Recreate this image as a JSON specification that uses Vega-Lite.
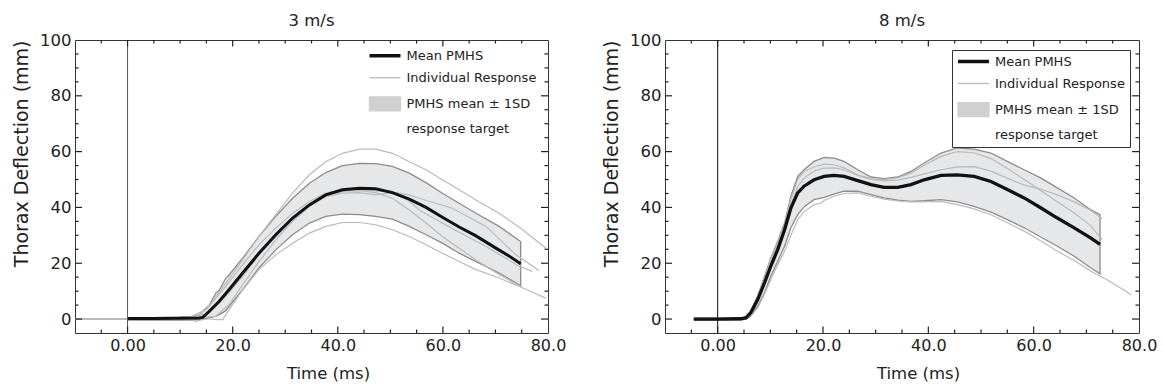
{
"$schema": "https://vega.github.io/schema/vega-lite/v6.json",
"padding": {"left": 12, "top": 12, "right": 5, "bottom": 5},
"spacing": 35,
"datasets": {
"ind3": [
{"s":"A","x":-10,"y":0},{"s":"A","x":5,"y":0},{"s":"A","x":10,"y":0.3},{"s":"A","x":12,"y":0.6},{"s":"A","x":13.6,"y":1.5},{"s":"A","x":15.5,"y":4.5},{"s":"A","x":18.7,"y":12.9},{"s":"A","x":21.9,"y":21.2},{"s":"A","x":25,"y":29.6},{"s":"A","x":28.2,"y":37.4},{"s":"A","x":31.4,"y":45.1},{"s":"A","x":34.6,"y":51.7},{"s":"A","x":37.7,"y":56.4},{"s":"A","x":40.9,"y":59.4},{"s":"A","x":44.1,"y":60.9},{"s":"A","x":47.2,"y":60.9},{"s":"A","x":50.4,"y":59.4},{"s":"A","x":53.6,"y":56.4},{"s":"A","x":56.8,"y":53.5},{"s":"A","x":59.9,"y":49.9},{"s":"A","x":63.1,"y":46.3},{"s":"A","x":66.3,"y":42.7},{"s":"A","x":70.7,"y":37.9},{"s":"A","x":75,"y":32.3},{"s":"A","x":79.6,"y":25.4},
{"s":"B","x":-10,"y":0},{"s":"B","x":5,"y":0},{"s":"B","x":10,"y":0.1},{"s":"B","x":12,"y":-0.3},{"s":"B","x":13,"y":-0.8},{"s":"B","x":14,"y":-0.3},{"s":"B","x":15.5,"y":0.1},{"s":"B","x":17,"y":-0.2},{"s":"B","x":18.1,"y":-0.2},{"s":"B","x":19.3,"y":3.3},{"s":"B","x":21.9,"y":10.5},{"s":"B","x":25,"y":17.7},{"s":"B","x":28.2,"y":23},{"s":"B","x":31.4,"y":27.2},{"s":"B","x":34.6,"y":30.8},{"s":"B","x":37.7,"y":33.2},{"s":"B","x":40.9,"y":34.6},{"s":"B","x":44.1,"y":34.6},{"s":"B","x":47.2,"y":33.8},{"s":"B","x":50.4,"y":32},{"s":"B","x":53.6,"y":29.6},{"s":"B","x":56.8,"y":26.6},{"s":"B","x":59.9,"y":23.6},{"s":"B","x":63.1,"y":20.6},{"s":"B","x":66.3,"y":17.7},{"s":"B","x":70.7,"y":14.7},{"s":"B","x":75,"y":11.3},{"s":"B","x":79.6,"y":7.5},
{"s":"C","x":-10,"y":0},{"s":"C","x":5,"y":0},{"s":"C","x":10,"y":0.3},{"s":"C","x":12,"y":0.8},{"s":"C","x":14.9,"y":3.3},{"s":"C","x":18.7,"y":11.7},{"s":"C","x":21.9,"y":19.5},{"s":"C","x":25,"y":26.6},{"s":"C","x":28.2,"y":32.6},{"s":"C","x":31.4,"y":37.9},{"s":"C","x":34.6,"y":42.1},{"s":"C","x":37.7,"y":45.1},{"s":"C","x":40.9,"y":46.3},{"s":"C","x":44.1,"y":46.3},{"s":"C","x":47.2,"y":46},{"s":"C","x":50.4,"y":45.5},{"s":"C","x":53.6,"y":44.5},{"s":"C","x":55.5,"y":43.3},{"s":"C","x":61.8,"y":39.7},{"s":"C","x":68.2,"y":33.2},{"s":"C","x":73.9,"y":23},{"s":"C","x":78.3,"y":17.4},
{"s":"D","x":-10,"y":0},{"s":"D","x":5,"y":0},{"s":"D","x":10,"y":0.2},{"s":"D","x":12,"y":0.5},{"s":"D","x":15.5,"y":2.1},{"s":"D","x":18.7,"y":8.1},{"s":"D","x":21.9,"y":15.3},{"s":"D","x":25,"y":23},{"s":"D","x":28.2,"y":29.6},{"s":"D","x":31.4,"y":35.6},{"s":"D","x":34.6,"y":40.9},{"s":"D","x":37.7,"y":43.9},{"s":"D","x":40.9,"y":45.1},{"s":"D","x":44.1,"y":45.3},{"s":"D","x":47.2,"y":44.5},{"s":"D","x":50.4,"y":45.3},{"s":"D","x":53.6,"y":42.3},{"s":"D","x":55.5,"y":39.1},{"s":"D","x":61.8,"y":32.4},{"s":"D","x":68.2,"y":26},{"s":"D","x":74.5,"y":18.9},{"s":"D","x":77,"y":17.1},
{"s":"E","x":-10,"y":0},{"s":"E","x":5,"y":0},{"s":"E","x":10,"y":0.1},{"s":"E","x":13,"y":0.4},{"s":"E","x":16.8,"y":1},{"s":"E","x":19.3,"y":5.1},{"s":"E","x":21.9,"y":12.3},{"s":"E","x":25,"y":20.6},{"s":"E","x":28.2,"y":28.4},{"s":"E","x":31.4,"y":35},{"s":"E","x":34.6,"y":40.3},{"s":"E","x":37.7,"y":43.9},{"s":"E","x":40.9,"y":45.7},{"s":"E","x":44.1,"y":46},{"s":"E","x":47.2,"y":45.3},{"s":"E","x":50.4,"y":43.3},{"s":"E","x":53.6,"y":39.1},{"s":"E","x":56.8,"y":34.4},{"s":"E","x":59.9,"y":29.6},{"s":"E","x":63.1,"y":25.4},{"s":"E","x":66.3,"y":21.2},{"s":"E","x":70.7,"y":15.9},{"s":"E","x":75,"y":11.5}
],
"mean3": [
{"x":0,"y":0.2},{"x":5,"y":0.2},{"x":10,"y":0.3},{"x":13.6,"y":0.4},{"x":14.3,"y":0.6},{"x":15.5,"y":2.7},{"x":17.4,"y":6.3},{"x":19.3,"y":10.5},{"x":21.9,"y":16.5},{"x":25,"y":23.6},{"x":28.2,"y":30.2},{"x":31.4,"y":36.2},{"x":34.6,"y":40.9},{"x":37.7,"y":44.5},{"x":40.9,"y":46.3},{"x":44.1,"y":46.9},{"x":47.2,"y":46.7},{"x":50.4,"y":45.3},{"x":53.6,"y":43},{"x":56.8,"y":40},{"x":59.9,"y":36.5},{"x":63.1,"y":33},{"x":66.3,"y":29.8},{"x":70,"y":25.5},{"x":72.5,"y":22.7},{"x":74.8,"y":19.8}
],
"band3": [
{"x":0,"lo":-0.4,"hi":0.5},{"x":5,"lo":-0.4,"hi":0.5},{"x":10,"lo":-0.3,"hi":0.7},{"x":12,"lo":-0.4,"hi":0.9},{"x":13.6,"lo":-0.2,"hi":1.5},{"x":14.9,"lo":0.2,"hi":3.9},{"x":15.5,"lo":0.4,"hi":4.8},{"x":16.8,"lo":1,"hi":9.3},{"x":17.4,"lo":1.5,"hi":10.2},{"x":18.7,"lo":3,"hi":14.7},{"x":19.3,"lo":4.5,"hi":15.8},{"x":21.9,"lo":10.5,"hi":21.8},{"x":25,"lo":18.3,"hi":29.6},{"x":28.2,"lo":24.8,"hi":36.8},{"x":31.4,"lo":30.2,"hi":43.3},{"x":34.6,"lo":34.4,"hi":48.7},{"x":37.7,"lo":36.8,"hi":52.5},{"x":40.9,"lo":37.6,"hi":55},{"x":44.1,"lo":37.4,"hi":55.8},{"x":47.2,"lo":36.8,"hi":55.7},{"x":50.4,"lo":35.8,"hi":54.7},{"x":53.6,"lo":33.2,"hi":52.3},{"x":56.8,"lo":30.2,"hi":48.9},{"x":59.9,"lo":27.2,"hi":45.1},{"x":63.1,"lo":23.6,"hi":41.5},{"x":66.3,"lo":20.6,"hi":37.9},{"x":70.7,"lo":16.5,"hi":33.2},{"x":74.8,"lo":11.9,"hi":27.8}
],
"ind8": [
{"s":"I1","x":-4.5,"y":0},{"s":"I1","x":4.4,"y":0},{"s":"I1","x":5.4,"y":0.8},{"s":"I1","x":6.3,"y":3},{"s":"I1","x":7.6,"y":8.5},{"s":"I1","x":8.9,"y":15},{"s":"I1","x":10.1,"y":21.5},{"s":"I1","x":11.4,"y":27.5},{"s":"I1","x":12.7,"y":34},{"s":"I1","x":13.9,"y":43},{"s":"I1","x":15.2,"y":50},{"s":"I1","x":16.4,"y":52.9},{"s":"I1","x":18.3,"y":54.5},{"s":"I1","x":20.2,"y":55.5},{"s":"I1","x":22.1,"y":55.3},{"s":"I1","x":24,"y":54.2},{"s":"I1","x":26.6,"y":51.7},{"s":"I1","x":29.1,"y":50.3},{"s":"I1","x":31.6,"y":50},{"s":"I1","x":34.2,"y":50.6},{"s":"I1","x":36.7,"y":52.3},{"s":"I1","x":39.2,"y":55},{"s":"I1","x":42.4,"y":58.3},{"s":"I1","x":45.5,"y":60},{"s":"I1","x":48.7,"y":59.6},{"s":"I1","x":51.9,"y":57.5},{"s":"I1","x":55,"y":54},{"s":"I1","x":58.2,"y":50},{"s":"I1","x":61.4,"y":46},{"s":"I1","x":64.5,"y":42},{"s":"I1","x":67.7,"y":38},{"s":"I1","x":70.8,"y":33.5},{"s":"I1","x":73,"y":28.5},
{"s":"I2","x":-4.5,"y":0},{"s":"I2","x":4.4,"y":0},{"s":"I2","x":5.4,"y":0.5},{"s":"I2","x":6.3,"y":2.5},{"s":"I2","x":7.6,"y":7.5},{"s":"I2","x":8.9,"y":14},{"s":"I2","x":10.1,"y":20.5},{"s":"I2","x":11.4,"y":26.5},{"s":"I2","x":12.7,"y":33},{"s":"I2","x":13.9,"y":41},{"s":"I2","x":15.2,"y":47.5},{"s":"I2","x":16.4,"y":50.5},{"s":"I2","x":18.3,"y":53},{"s":"I2","x":20.2,"y":54.1},{"s":"I2","x":22.1,"y":54.2},{"s":"I2","x":24,"y":53.5},{"s":"I2","x":26.6,"y":51.5},{"s":"I2","x":29.1,"y":50},{"s":"I2","x":31.6,"y":49.5},{"s":"I2","x":34.2,"y":49.8},{"s":"I2","x":36.7,"y":50.8},{"s":"I2","x":39.2,"y":52},{"s":"I2","x":42.4,"y":53.5},{"s":"I2","x":45.5,"y":54.5},{"s":"I2","x":48.7,"y":54.6},{"s":"I2","x":51.9,"y":53},{"s":"I2","x":55,"y":50.5},{"s":"I2","x":58.2,"y":48},{"s":"I2","x":61.4,"y":46.5},{"s":"I2","x":64.5,"y":44.5},{"s":"I2","x":67.7,"y":42},{"s":"I2","x":70.8,"y":39},{"s":"I2","x":73,"y":36},
{"s":"I3","x":-4.5,"y":0},{"s":"I3","x":4.4,"y":0},{"s":"I3","x":5.4,"y":0.2},{"s":"I3","x":6.3,"y":1.2},{"s":"I3","x":7.6,"y":4},{"s":"I3","x":8.9,"y":9},{"s":"I3","x":10.1,"y":14.2},{"s":"I3","x":11.4,"y":19.5},{"s":"I3","x":12.7,"y":24.3},{"s":"I3","x":13.9,"y":30},{"s":"I3","x":15.2,"y":35.6},{"s":"I3","x":16.4,"y":38.5},{"s":"I3","x":18.3,"y":41},{"s":"I3","x":19.5,"y":41.5},{"s":"I3","x":20.2,"y":42.5},{"s":"I3","x":22.1,"y":44},{"s":"I3","x":24,"y":45},{"s":"I3","x":26.6,"y":45.2},{"s":"I3","x":29.1,"y":44},{"s":"I3","x":31.6,"y":43},{"s":"I3","x":34.2,"y":42.3},{"s":"I3","x":36.7,"y":42},{"s":"I3","x":39.2,"y":42},{"s":"I3","x":42.4,"y":42.2},{"s":"I3","x":45.5,"y":41},{"s":"I3","x":48.7,"y":39.5},{"s":"I3","x":51.9,"y":37.4},{"s":"I3","x":55,"y":34.5},{"s":"I3","x":58.2,"y":31.5},{"s":"I3","x":61.4,"y":28},{"s":"I3","x":64.5,"y":24.3},{"s":"I3","x":67.7,"y":21},{"s":"I3","x":70.8,"y":17.2},{"s":"I3","x":74,"y":14},{"s":"I3","x":78.6,"y":8.7}
],
"mean8": [
{"x":-4.5,"y":0},{"x":0,"y":0},{"x":4.4,"y":0.1},{"x":5.4,"y":0.5},{"x":6.3,"y":2.3},{"x":7.6,"y":7},{"x":8.9,"y":13},{"x":10.1,"y":19},{"x":11.4,"y":24.9},{"x":12.7,"y":32},{"x":13.9,"y":39.8},{"x":15.2,"y":45.2},{"x":16.4,"y":47.6},{"x":18.3,"y":49.9},{"x":20.2,"y":51.1},{"x":22.1,"y":51.5},{"x":24,"y":51.1},{"x":26.6,"y":49.6},{"x":29.1,"y":48.2},{"x":31.6,"y":47.2},{"x":34.2,"y":47.2},{"x":36.7,"y":48.2},{"x":39.2,"y":49.9},{"x":42.4,"y":51.5},{"x":45.5,"y":51.7},{"x":48.7,"y":51.1},{"x":51.9,"y":49.3},{"x":55,"y":46.4},{"x":58.2,"y":43.4},{"x":61.4,"y":39.8},{"x":64.5,"y":36.2},{"x":67.7,"y":32.7},{"x":70.8,"y":29.1},{"x":72.6,"y":26.8}
],
"band8": [
{"x":-4.5,"lo":-0.3,"hi":0.3},{"x":4.4,"lo":-0.3,"hi":0.3},{"x":5.4,"lo":0,"hi":0.5},{"x":6.3,"lo":1.1,"hi":2.9},{"x":7.6,"lo":4.6,"hi":8.2},{"x":8.9,"lo":9.4,"hi":15.4},{"x":10.1,"lo":15.4,"hi":21.9},{"x":11.4,"lo":20.7,"hi":27.9},{"x":12.7,"lo":26.1,"hi":34.4},{"x":13.9,"lo":32.7,"hi":44},{"x":15.2,"lo":37.4,"hi":51.1},{"x":16.4,"lo":40.2,"hi":53.5},{"x":18.3,"lo":42.8,"hi":56.5},{"x":20.2,"lo":43.6,"hi":57.9},{"x":22.1,"lo":44.8,"hi":57.7},{"x":24,"lo":45.8,"hi":56.5},{"x":26.6,"lo":45.8,"hi":53.5},{"x":29.1,"lo":44.6,"hi":50.9},{"x":31.6,"lo":43.4,"hi":50.3},{"x":34.2,"lo":42.6,"hi":50.9},{"x":36.7,"lo":42.2,"hi":52.9},{"x":39.2,"lo":42.4,"hi":55.9},{"x":42.4,"lo":42.8,"hi":59.5},{"x":45.5,"lo":42,"hi":61.3},{"x":48.7,"lo":40.4,"hi":60.9},{"x":51.9,"lo":38.3,"hi":59.5},{"x":55,"lo":35.6,"hi":56.5},{"x":58.2,"lo":32.7,"hi":53.5},{"x":61.4,"lo":29.3,"hi":50.5},{"x":64.5,"lo":26.1,"hi":47},{"x":67.7,"lo":22.5,"hi":43.4},{"x":70.8,"lo":18.4,"hi":39.2},{"x":72.6,"lo":16.2,"hi":37.4}
],
"zero": [{"x0": 0}],
"xmaj": [{"v":0},{"v":20},{"v":40},{"v":60}],
"xmin": [{"v":-5},{"v":5},{"v":10},{"v":15},{"v":25},{"v":30},{"v":35},{"v":45},{"v":50},{"v":55},{"v":65},{"v":70},{"v":75}],
"ymaj": [{"v":0},{"v":20},{"v":40},{"v":60},{"v":80}],
"ymin": [{"v":5},{"v":10},{"v":15},{"v":25},{"v":30},{"v":35},{"v":45},{"v":50},{"v":55},{"v":65},{"v":70},{"v":75},{"v":85},{"v":90},{"v":95}]
},
"hconcat": [
{
"width": 473, "height": 293,
"title": {"text": "3 m/s", "offset": 2.3},
"layer": [
{"data": {"name": "band3"}, "mark": {"type": "area", "fill": "#e6e7e9", "stroke": "#8c8c8c", "strokeWidth": 1.3},
 "encoding": {
  "x": {"field": "x", "type": "quantitative", "scale": {"domain": [-10, 80], "nice": false, "zero": false},
   "axis": {"orient": "bottom", "ticks": false, "grid": false, "values": [0,20,40,60,80], "labelExpr": "datum.value == 0 ? '0.00' : format(datum.value, '.1f')", "labelFontSize": 16, "labelPadding": 4.5, "title": "Time (ms)", "titleFontSize": 16.5, "titlePadding": 11.7, "titleX": 253}},
  "y": {"field": "lo", "type": "quantitative", "scale": {"domain": [-5, 100], "nice": false, "zero": false},
   "axis": {"orient": "left", "ticks": false, "grid": false, "values": [0,20,40,60,80,100], "labelFontSize": 16.5, "labelPadding": 4, "title": "Thorax Deflection (mm)", "titleFontSize": 19, "titleAnchor": "end", "titlePadding": 8}},
  "y2": {"field": "hi"}}},
{"data": {"name": "ind3"}, "mark": {"type": "line", "strokeWidth": 1.2},
 "encoding": {
  "x": {"field": "x", "type": "quantitative"},
  "y": {"field": "y", "type": "quantitative"},
  "detail": {"field": "s"},
  "color": {"datum": "Individual Response",
   "scale": {"domain": ["Mean PMHS", "Individual Response", "PMHS mean ± 1SD", "response target"], "range": ["#111111", "#bababa", "#d0d0d0", "#ffffff"]},
   "legend": {"title": null, "orient": "none", "legendX": 293.5, "legendY": 9.25, "padding": 0,
    "symbolType": "stroke", "symbolSize": 961, "symbolOffset": 10, "labelFontSize": 13, "labelColor": "#222", "labelOffset": 15, "rowPadding": 8, "labelLimit": 300,
    "encoding": {
     "symbols": {
      "shape": {"value": {"expr": "datum.value == 'PMHS mean ± 1SD' ? 'M-1,-0.45H1V0.45H-1Z' : 'stroke'"}},
      "strokeWidth": {"value": {"expr": "datum.value == 'Mean PMHS' ? 3.5 : 1.3"}},
      "fill": {"value": {"expr": "datum.value == 'PMHS mean ± 1SD' ? '#d0d0d0' : 'transparent'"}},
      "stroke": {"value": {"expr": "datum.value == 'PMHS mean ± 1SD' ? '#a0a0a0' : (datum.value == 'Mean PMHS' ? '#111111' : (datum.value == 'Individual Response' ? '#bababa' : 'transparent'))"}}}}}}}},
{"data": {"name": "mean3"}, "mark": {"type": "line", "strokeWidth": 3},
 "encoding": {"x": {"field": "x", "type": "quantitative"}, "y": {"field": "y", "type": "quantitative"}, "color": {"datum": "Mean PMHS"}}},
{"data": {"name": "zero"}, "mark": {"type": "rule", "color": "#555555", "strokeWidth": 1},
 "encoding": {"x": {"field": "x0", "type": "quantitative"}, "y": {"datum": -5, "type": "quantitative"}, "y2": {"datum": 100}}},
{"data": {"name": "xmaj"}, "mark": {"type": "rule", "color": "#222222", "strokeWidth": 1.2},
 "encoding": {"x": {"field": "v", "type": "quantitative"}, "y": {"datum": -5, "type": "quantitative"}, "y2": {"datum": -2.67}}},
{"data": {"name": "xmaj"}, "mark": {"type": "rule", "color": "#222222", "strokeWidth": 1.2},
 "encoding": {"x": {"field": "v", "type": "quantitative"}, "y": {"datum": 100, "type": "quantitative"}, "y2": {"datum": 97.67}}},
{"data": {"name": "xmin"}, "mark": {"type": "rule", "color": "#222222", "strokeWidth": 1.2},
 "encoding": {"x": {"field": "v", "type": "quantitative"}, "y": {"datum": -5, "type": "quantitative"}, "y2": {"datum": -3.75}}},
{"data": {"name": "xmin"}, "mark": {"type": "rule", "color": "#222222", "strokeWidth": 1.2},
 "encoding": {"x": {"field": "v", "type": "quantitative"}, "y": {"datum": 100, "type": "quantitative"}, "y2": {"datum": 98.75}}},
{"data": {"name": "ymaj"}, "mark": {"type": "rule", "color": "#222222", "strokeWidth": 1.2},
 "encoding": {"y": {"field": "v", "type": "quantitative"}, "x": {"datum": -10, "type": "quantitative"}, "x2": {"datum": -8.67}}},
{"data": {"name": "ymaj"}, "mark": {"type": "rule", "color": "#222222", "strokeWidth": 1.2},
 "encoding": {"y": {"field": "v", "type": "quantitative"}, "x": {"datum": 80, "type": "quantitative"}, "x2": {"datum": 78.67}}},
{"data": {"name": "ymin"}, "mark": {"type": "rule", "color": "#222222", "strokeWidth": 1.2},
 "encoding": {"y": {"field": "v", "type": "quantitative"}, "x": {"datum": -10, "type": "quantitative"}, "x2": {"datum": -9.33}}},
{"data": {"name": "ymin"}, "mark": {"type": "rule", "color": "#222222", "strokeWidth": 1.2},
 "encoding": {"y": {"field": "v", "type": "quantitative"}, "x": {"datum": 80, "type": "quantitative"}, "x2": {"datum": 79.33}}}
]
},
{
"width": 474, "height": 293,
"title": {"text": "8 m/s", "offset": 2.3},
"layer": [
{"data": {"name": "band8"}, "mark": {"type": "area", "fill": "#e6e7e9", "stroke": "#8c8c8c", "strokeWidth": 1.3},
 "encoding": {
  "x": {"field": "x", "type": "quantitative", "scale": {"domain": [-10, 80], "nice": false, "zero": false},
   "axis": {"orient": "bottom", "ticks": false, "grid": false, "values": [0,20,40,60,80], "labelExpr": "datum.value == 0 ? '0.00' : format(datum.value, '.1f')", "labelFontSize": 16, "labelPadding": 4.5, "title": "Time (ms)", "titleFontSize": 16.5, "titlePadding": 11.7, "titleX": 253}},
  "y": {"field": "lo", "type": "quantitative", "scale": {"domain": [-5, 100], "nice": false, "zero": false},
   "axis": {"orient": "left", "ticks": false, "grid": false, "values": [0,20,40,60,80,100], "labelFontSize": 16.5, "labelPadding": 4, "title": "Thorax Deflection (mm)", "titleFontSize": 19, "titleAnchor": "end", "titlePadding": 8}},
  "y2": {"field": "hi"}}},
{"data": {"name": "ind8"}, "mark": {"type": "line", "strokeWidth": 1.2},
 "encoding": {
  "x": {"field": "x", "type": "quantitative"},
  "y": {"field": "y", "type": "quantitative"},
  "detail": {"field": "s"},
  "color": {"datum": "Individual Response",
   "scale": {"domain": ["Mean PMHS", "Individual Response", "PMHS mean ± 1SD", "response target"], "range": ["#111111", "#bababa", "#d0d0d0", "#ffffff"]},
   "legend": {"title": null, "orient": "none", "legendX": 287, "legendY": 10, "padding": 5, "strokeColor": "#333333",
    "symbolType": "stroke", "symbolSize": 961, "symbolOffset": 10, "labelFontSize": 13, "labelColor": "#222", "labelOffset": 15, "rowPadding": 8, "labelLimit": 300,
    "encoding": {
     "symbols": {
      "shape": {"value": {"expr": "datum.value == 'PMHS mean ± 1SD' ? 'M-1,-0.45H1V0.45H-1Z' : 'stroke'"}},
      "strokeWidth": {"value": {"expr": "datum.value == 'Mean PMHS' ? 3.5 : 1.3"}},
      "fill": {"value": {"expr": "datum.value == 'PMHS mean ± 1SD' ? '#d0d0d0' : 'transparent'"}},
      "stroke": {"value": {"expr": "datum.value == 'PMHS mean ± 1SD' ? '#a0a0a0' : (datum.value == 'Mean PMHS' ? '#111111' : (datum.value == 'Individual Response' ? '#bababa' : 'transparent'))"}}}}}}}},
{"data": {"name": "mean8"}, "mark": {"type": "line", "strokeWidth": 3.3},
 "encoding": {"x": {"field": "x", "type": "quantitative"}, "y": {"field": "y", "type": "quantitative"}, "color": {"datum": "Mean PMHS"}}},
{"data": {"name": "zero"}, "mark": {"type": "rule", "color": "#111111", "strokeWidth": 1},
 "encoding": {"x": {"field": "x0", "type": "quantitative"}, "y": {"datum": -5, "type": "quantitative"}, "y2": {"datum": 100}}},
{"data": {"name": "xmaj"}, "mark": {"type": "rule", "color": "#222222", "strokeWidth": 1.2},
 "encoding": {"x": {"field": "v", "type": "quantitative"}, "y": {"datum": -5, "type": "quantitative"}, "y2": {"datum": -2.67}}},
{"data": {"name": "xmaj"}, "mark": {"type": "rule", "color": "#222222", "strokeWidth": 1.2},
 "encoding": {"x": {"field": "v", "type": "quantitative"}, "y": {"datum": 100, "type": "quantitative"}, "y2": {"datum": 97.67}}},
{"data": {"name": "xmin"}, "mark": {"type": "rule", "color": "#222222", "strokeWidth": 1.2},
 "encoding": {"x": {"field": "v", "type": "quantitative"}, "y": {"datum": -5, "type": "quantitative"}, "y2": {"datum": -3.75}}},
{"data": {"name": "xmin"}, "mark": {"type": "rule", "color": "#222222", "strokeWidth": 1.2},
 "encoding": {"x": {"field": "v", "type": "quantitative"}, "y": {"datum": 100, "type": "quantitative"}, "y2": {"datum": 98.75}}},
{"data": {"name": "ymaj"}, "mark": {"type": "rule", "color": "#222222", "strokeWidth": 1.2},
 "encoding": {"y": {"field": "v", "type": "quantitative"}, "x": {"datum": -10, "type": "quantitative"}, "x2": {"datum": -8.67}}},
{"data": {"name": "ymaj"}, "mark": {"type": "rule", "color": "#222222", "strokeWidth": 1.2},
 "encoding": {"y": {"field": "v", "type": "quantitative"}, "x": {"datum": 80, "type": "quantitative"}, "x2": {"datum": 78.67}}},
{"data": {"name": "ymin"}, "mark": {"type": "rule", "color": "#222222", "strokeWidth": 1.2},
 "encoding": {"y": {"field": "v", "type": "quantitative"}, "x": {"datum": -10, "type": "quantitative"}, "x2": {"datum": -9.33}}},
{"data": {"name": "ymin"}, "mark": {"type": "rule", "color": "#222222", "strokeWidth": 1.2},
 "encoding": {"y": {"field": "v", "type": "quantitative"}, "x": {"datum": 80, "type": "quantitative"}, "x2": {"datum": 79.33}}}
]
}
],
"resolve": {"scale": {"color": "independent", "x": "independent", "y": "independent"}, "legend": {"color": "independent"}},
"config": {
 "font": "DejaVu Sans",
 "view": {"stroke": "#333333", "strokeWidth": 1},
 "axis": {"domain": false, "labelColor": "#222222", "titleColor": "#222222", "titleFontWeight": "normal", "labelFlush": false, "labelOverlap": false, "labelFont": "DejaVu Sans", "titleFont": "DejaVu Sans"},
 "title": {"fontWeight": "normal", "fontSize": 16.5, "color": "#222222", "font": "DejaVu Sans"},
 "legend": {"labelFont": "DejaVu Sans"}
}
}
